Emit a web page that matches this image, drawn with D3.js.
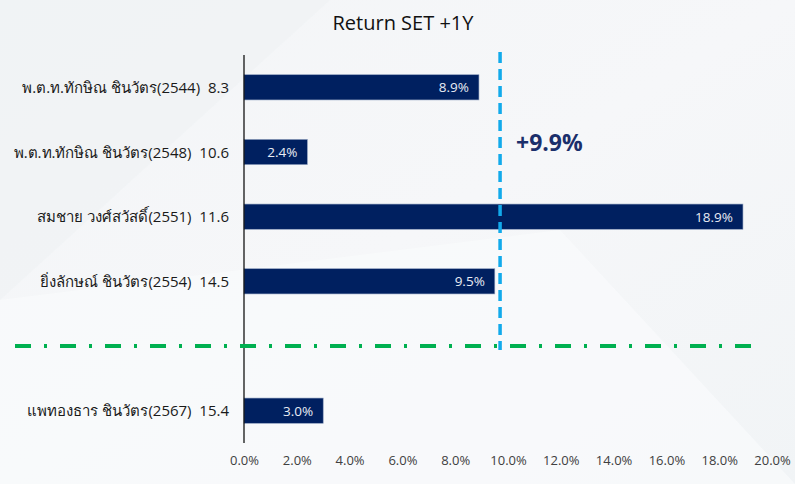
<!DOCTYPE html>
<html>
<head>
<meta charset="utf-8">
<script src="https://cdn.jsdelivr.net/npm/d3@7"></script>
<style>
  html, body { margin: 0; padding: 0; background: #f4f6f8; }
  svg { display: block; }
  text { font-family: "Open Sans", "Noto Sans", "DejaVu Sans", sans-serif; }
</style>
</head>
<body>
<svg id="chart" width="795" height="484"></svg>
<script>
// ---- data ----
const categories = [
  "พ.ต.ท.ทักษิณ ชินวัตร(2544)  8.3",
  "พ.ต.ท.ทักษิณ ชินวัตร(2548)  10.6",
  "สมชาย วงศ์สวัสดิ์(2551)  11.6",
  "ยิ่งลักษณ์ ชินวัตร(2554)  14.5",
  "",
  "แพทองธาร ชินวัตร(2567)  15.4"
];
const returns = [8.9, 2.4, 18.9, 9.5, null, 3.0];
const xTicks = [0, 2, 4, 6, 8, 10, 12, 14, 16, 18, 20];
const titleText = "Return SET +1Y";
const avgLabel = "+9.9%";
const avgLinePos = 9.7;

// ---- layout ----
const svg = d3.select("#chart");
const W = 795, H = 484;
const margin = { left: 244, right: 23, top: 55, bottom: 41 };

// background
const defs = svg.append("defs");
const grad = defs.append("linearGradient").attr("id", "bg").attr("x1", 0).attr("y1", 0).attr("x2", 1).attr("y2", 1);
grad.append("stop").attr("offset", 0).attr("stop-color", "#f3f5f7");
grad.append("stop").attr("offset", 0.5).attr("stop-color", "#f6f7f9");
grad.append("stop").attr("offset", 1).attr("stop-color", "#f1f4f6");
svg.append("rect").attr("width", W).attr("height", H).attr("fill", "url(#bg)");
svg.append("path").attr("d", "M0,0 L330,0 L0,300 Z").attr("fill", "#eef1f4").attr("opacity", 0.6);
svg.append("path").attr("d", "M0,300 L560,230 L795,484 L0,484 Z").attr("fill", "#fafbfc").attr("opacity", 0.7);

const x = d3.scaleLinear().domain([0, 20]).range([margin.left, W - margin.right]);
const y = d3.scaleBand().domain(d3.range(categories.length)).range([margin.top, H - margin.bottom]).paddingInner(0.61).paddingOuter(0.305);

// title
svg.append("text").attr("x", 403).attr("y", 30).attr("text-anchor", "middle")
  .attr("font-size", 20).attr("fill", "#111").text(titleText);

// bars
const rows = categories.map((c, i) => ({ c, v: returns[i], i }));
svg.append("g").selectAll("rect").data(rows.filter(d => d.v !== null)).join("rect")
  .attr("x", x(0)).attr("y", d => y(d.i))
  .attr("width", d => x(d.v) - x(0)).attr("height", y.bandwidth())
  .attr("fill", "#002060").attr("stroke", "#8fa0bf").attr("stroke-width", 0.6);

// bar value labels
svg.append("g").selectAll("text").data(rows.filter(d => d.v !== null)).join("text")
  .attr("x", d => x(d.v) - 10).attr("y", d => y(d.i) + y.bandwidth() / 2 + 5)
  .attr("text-anchor", "end").attr("font-size", 13.5).attr("fill", "#e8ecf4")
  .text(d => d.v.toFixed(1) + "%");

// category labels
svg.append("g").selectAll("text").data(rows.filter(d => d.c)).join("text")
  .attr("x", 229).attr("y", d => y(d.i) + y.bandwidth() / 2 + 5.5)
  .attr("text-anchor", "end").attr("font-size", 15).attr("fill", "#1a1a1a")
  .attr("xml:space", "preserve")
  .style("white-space", "pre")
  .text(d => d.c);

// y axis line
svg.append("line").attr("x1", x(0)).attr("x2", x(0)).attr("y1", margin.top).attr("y2", H - margin.bottom)
  .attr("stroke", "#000").attr("stroke-width", 1.2);

// x axis
const xAxis = d3.axisBottom(x).tickValues(xTicks).tickSize(0).tickFormat(d => d.toFixed(1) + "%");
const gx = svg.append("g").attr("transform", `translate(0,${H - margin.bottom + 10})`).call(xAxis);
gx.select(".domain").remove();
gx.selectAll("text").attr("font-size", 13).attr("fill", "#404040")
  .attr("font-family", "'Open Sans', 'Noto Sans', sans-serif");

// green separator (dash-dot) in empty slot
const sepY = y(4) + y.bandwidth() / 2;
svg.append("line").attr("x1", 15).attr("x2", 758).attr("y1", sepY).attr("y2", sepY)
  .attr("stroke", "#00b050").attr("stroke-width", 4).attr("stroke-dasharray", "16 13 3 13");

// blue dashed average line
svg.append("line").attr("x1", x(avgLinePos)).attr("x2", x(avgLinePos)).attr("y1", 52).attr("y2", sepY + 4)
  .attr("stroke", "#12aaeb").attr("stroke-width", 3.5).attr("stroke-dasharray", "11 6");

// avg label
svg.append("text").attr("x", 516).attr("y", 151).attr("font-size", 23).attr("font-weight", "bold")
  .attr("fill", "#1b2f6b").text(avgLabel);
</script>
</body>
</html>
